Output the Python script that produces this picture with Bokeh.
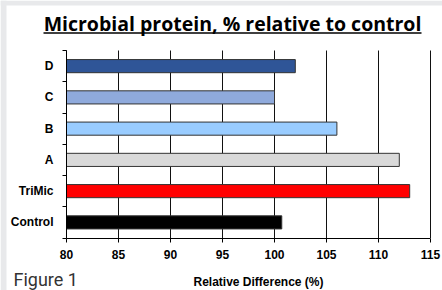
from bokeh.plotting import figure
from bokeh.models import FixedTicker
from bokeh.core.properties import value
from bokeh.embed import file_html
from bokeh.resources import INLINE

# Data (top to bottom in the picture: D, C, B, A, TriMic, Control)
categories = ["Control", "TriMic", "A", "B", "C", "D"]
values = [100.7, 113.0, 112.0, 106.0, 100.0, 102.0]
colors = ["#000000", "#ff0000", "#d9d9d9", "#99ccff", "#8faadc", "#2f5597"]
x_ticks = [80, 85, 90, 95, 100, 105, 110, 115]
title_text = "Microbial protein, % relative to control"
x_label = "Relative Difference (%)"
figure_caption = "Figure 1"

W, H = 442, 290
X0, X1 = 80, 115
N = len(categories)
# frame covers whole canvas; axes are fixed inside it
FL, FR, FT, FB = 66, 430, 50, 237.5   # frame of the bar area, in canvas px
kx = (FR - FL) / (X1 - X0)
ky = (FB - FT) / N
x_range = (X0 - FL / kx, X1 + (W - FR) / kx)
y_range = (-(H - FB) / ky, N + FT / ky)

p = figure(width=W, height=H, output_backend="svg", toolbar_location=None,
           x_range=x_range, y_range=y_range, min_border=0)
p.outline_line_color = None
p.background_fill_color = "white"
p.border_fill_color = "white"
p.xgrid.grid_line_color = None
p.ygrid.grid_line_color = None


def cx(px):
    return x_range[0] + px / kx


def cy(py):
    return y_range[1] - py / ky


# light grey page strip along the top and left edges
p.quad(left=[cx(0), cx(0)], right=[cx(W), cx(6)], top=[cy(0), cy(0)],
       bottom=[cy(5), cy(H)], fill_color="#e8e9eb", line_color=None)

# vertical grid lines (only over the category area)
p.segment(x0=x_ticks, x1=x_ticks, y0=0, y1=N, line_color="#111111", line_width=1)

ys = [i + 0.5 for i in range(N)]
p.hbar(y=ys, right=values, left=X0, height=0.42, fill_color=colors,
       line_color="#333333", line_width=1)

# x axis
xa = p.xaxis[0]
xa.fixed_location = 0
xa.bounds = (X0, X1)
xa.ticker = FixedTicker(ticks=x_ticks, minor_ticks=[])
xa.axis_line_color = "black"
xa.major_tick_out = 4
xa.major_tick_in = 0
xa.major_tick_line_color = "black"
xa.major_label_standoff = 8
xa.major_label_text_font = "Liberation Sans"
xa.major_label_text_font_style = "bold"
xa.major_label_text_font_size = "12px"
xa.major_label_text_color = "black"

# y axis
ya = p.yaxis[0]
ya.fixed_location = X0
ya.bounds = (0, N)
ya.ticker = FixedTicker(ticks=ys, minor_ticks=list(range(N + 1)))
ya.major_label_overrides = {y: c for y, c in zip(ys, categories)}
ya.axis_line_color = "black"
ya.major_tick_line_color = None
ya.major_tick_out = 0
ya.major_tick_in = 0
ya.minor_tick_out = 4
ya.minor_tick_in = 0
ya.minor_tick_line_color = "black"
ya.major_label_standoff = 9
ya.major_label_text_font = "Liberation Sans"
ya.major_label_text_font_style = "bold"
ya.major_label_text_font_size = "12px"
ya.major_label_text_color = "black"

# x axis title
p.text(x=[cx(258)], y=[cy(281)], text=[x_label], text_align="center",
       text_baseline="middle", text_font=value("Liberation Sans"),
       text_font_style="bold", text_font_size="12px", text_color="black")

# chart title with underline
p.text(x=[cx(232)], y=[cy(23)], text=[title_text], text_align="center",
       text_baseline="middle", text_font=value("Open Sans"),
       text_font_style="bold", text_font_size="19.5px", text_color="black")
p.segment(x0=[cx(43)], x1=[cx(421)], y0=[cy(32.5)], y1=[cy(32.5)],
          line_color="black", line_width=1.5)

# caption
p.text(x=[cx(13)], y=[cy(278.5)], text=[figure_caption], text_align="left",
       text_baseline="middle", text_font=value("Roboto"),
       text_font_size="18px", text_color="#333333")

open("out.html", "w").write(file_html(p, INLINE))
